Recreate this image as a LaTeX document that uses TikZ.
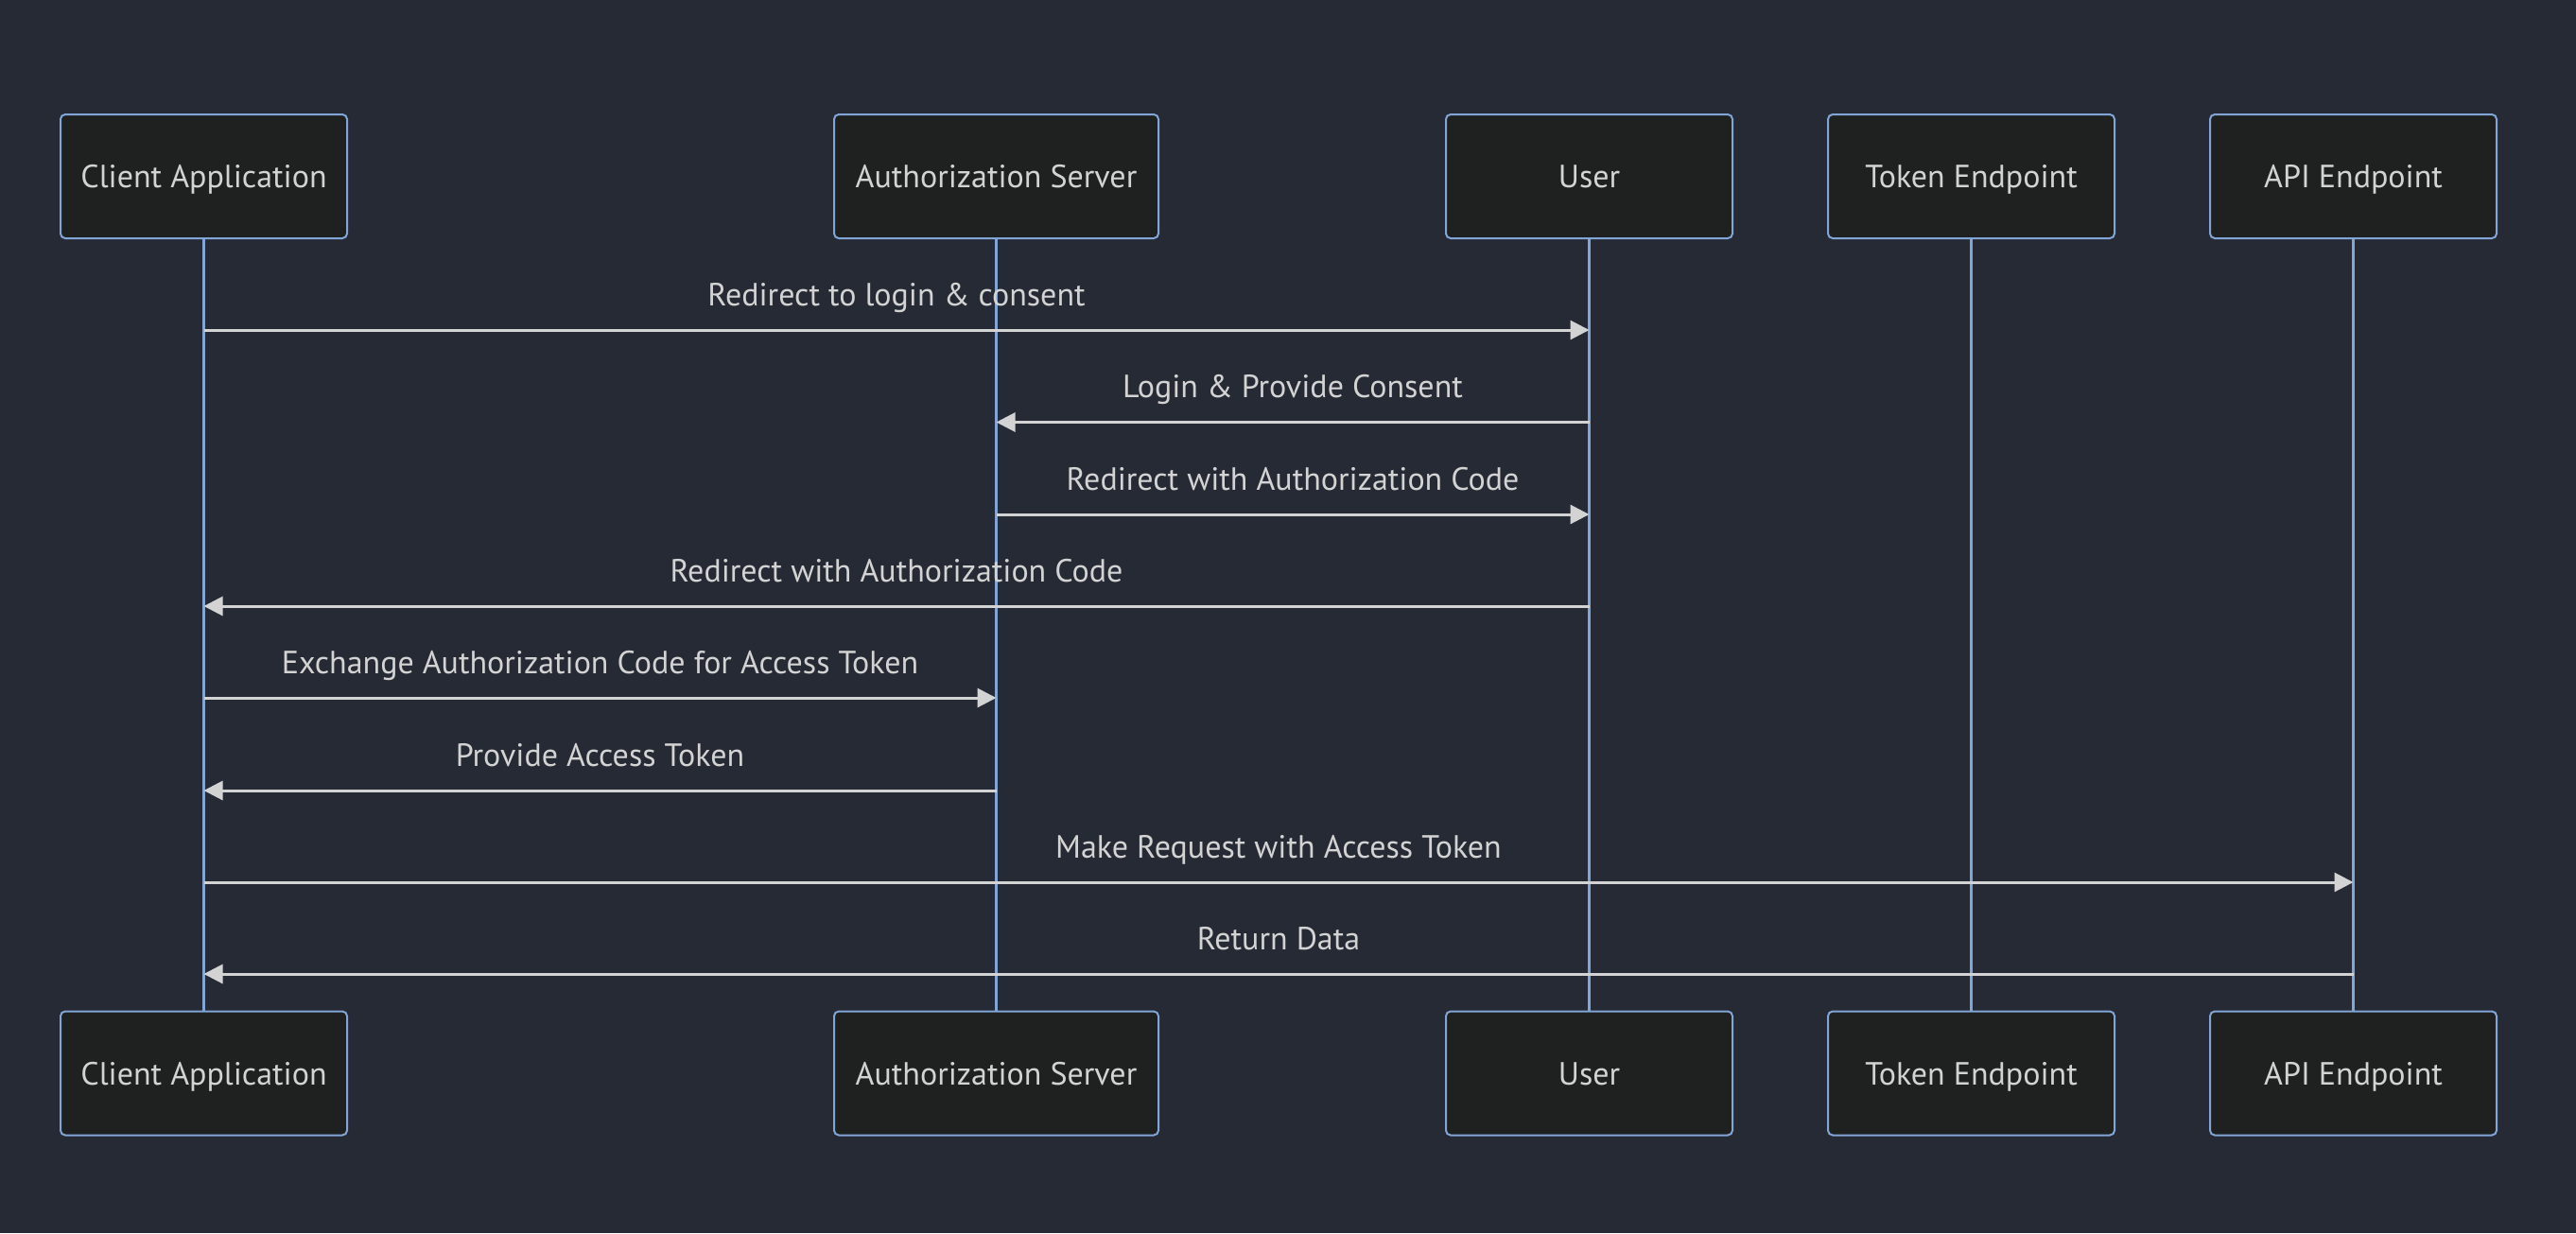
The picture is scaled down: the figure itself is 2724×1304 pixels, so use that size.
\documentclass[tikz,border=0pt]{standalone}
\usepackage{fontspec}
\setmainfont{PT Sans}
\usetikzlibrary{arrows.meta}
\definecolor{bg}{HTML}{262A35}
\definecolor{boxfill}{HTML}{1F2020}
\definecolor{boxline}{HTML}{81A5D6}
\definecolor{txt}{HTML}{D3D3D3}
\tikzset{
  actor/.style={draw=boxline, line width=2pt, fill=boxfill, rounded corners=5pt,
    minimum width=303pt, minimum height=131pt, inner sep=0pt, text=txt,
    text height=28pt, text depth=4pt,
    font=\fontsize{34}{40}\selectfont},
  life/.style={draw=boxline, line width=3pt},
  msg/.style={draw=txt, line width=3pt, -{Triangle[length=20pt,width=20pt]}},
  lbl/.style={text=txt, font=\fontsize{34}{40}\selectfont, inner sep=0pt, anchor=base}
}
\begin{document}
\begin{tikzpicture}[x=1pt,y=-1pt]
\fill[bg] (0,0) rectangle (2724,1304);
\useasboundingbox (0,0) rectangle (2724,1304);
% top actors
\node[actor] (a1) at (215.5,186.5) {Client Application};
\node[actor, minimum width=343pt] (a2) at (1053.5,186.5) {Authorization Server};
\node[actor] (a3) at (1680.5,186.5) {User};
\node[actor] (a4) at (2084.5,186.5) {Token Endpoint};
\node[actor] (a5) at (2488.5,186.5) {API Endpoint};
% bottom actors
\node[actor] (b1) at (215.5,1135) {Client Application};
\node[actor, minimum width=343pt] (b2) at (1053.5,1135) {Authorization Server};
\node[actor] (b3) at (1680.5,1135) {User};
\node[actor] (b4) at (2084.5,1135) {Token Endpoint};
\node[actor] (b5) at (2488.5,1135) {API Endpoint};
% lifelines
\foreach \i in {1,...,5} {\draw[life] (a\i.south) -- (b\i.north);}
% messages
\draw[msg] (a1 |- 0,349) -- (a3 |- 0,349) node[lbl, midway, yshift=26pt] {Redirect to login \& consent};
\draw[msg] (a3 |- 0,446.5) -- (a2 |- 0,446.5) node[lbl, midway, yshift=26pt] {Login \& Provide Consent};
\draw[msg] (a2 |- 0,544) -- (a3 |- 0,544) node[lbl, midway, yshift=26pt] {Redirect with Authorization Code};
\draw[msg] (a3 |- 0,641) -- (a1 |- 0,641) node[lbl, midway, yshift=26pt] {Redirect with Authorization Code};
\draw[msg] (a1 |- 0,738) -- (a2 |- 0,738) node[lbl, midway, yshift=26pt] {Exchange Authorization Code for Access Token};
\draw[msg] (a2 |- 0,836) -- (a1 |- 0,836) node[lbl, midway, yshift=26pt] {Provide Access Token};
\draw[msg] (a1 |- 0,933) -- (a5 |- 0,933) node[lbl, midway, yshift=26pt] {Make Request with Access Token};
\draw[msg] (a5 |- 0,1030) -- (a1 |- 0,1030) node[lbl, midway, yshift=26pt] {Return Data};
\end{tikzpicture}
\end{document}
